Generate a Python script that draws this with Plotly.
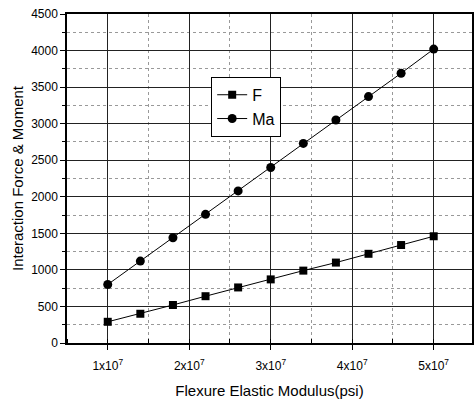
import plotly.graph_objects as go

x_vals = [1.0e7, 1.4e7, 1.8e7, 2.2e7, 2.6e7, 3.0e7, 3.4e7, 3.8e7, 4.2e7, 4.6e7, 5.0e7]
f_vals = [290, 400, 520, 640, 760, 870, 990, 1100, 1220, 1340, 1460]
ma_vals = [800, 1120, 1440, 1760, 2080, 2400, 2730, 3050, 3370, 3690, 4020]
x_tickvals = [1e7, 2e7, 3e7, 4e7, 5e7]
x_ticktext = ["1x10<sup>7</sup>", "2x10<sup>7</sup>", "3x10<sup>7</sup>", "4x10<sup>7</sup>", "5x10<sup>7</sup>"]
y_tickvals = [0, 500, 1000, 1500, 2000, 2500, 3000, 3500, 4000, 4500]

FONT = "Liberation Sans, Arial, sans-serif"

fig = go.Figure()
fig.add_trace(go.Scatter(x=x_vals, y=f_vals, name="F", mode="lines+markers",
                         line=dict(color="black", width=1),
                         marker=dict(symbol="square", size=8, color="black")))
fig.add_trace(go.Scatter(x=x_vals, y=ma_vals, name="Ma", mode="lines+markers",
                         line=dict(color="black", width=1),
                         marker=dict(symbol="circle", size=9, color="black")))

fig.update_layout(
    width=475, height=399,
    margin=dict(l=67, r=1, t=14, b=55),
    plot_bgcolor="white", paper_bgcolor="white",
    font=dict(family=FONT, color="black", size=12),
    showlegend=True,
    legend=dict(x=0.356, y=0.809, xanchor="left", yanchor="top",
                bordercolor="black", borderwidth=1, bgcolor="white",
                font=dict(size=16, family=FONT), tracegroupgap=0,
                itemwidth=30),
    xaxis=dict(range=[0.5e7, 5.47e7], tickvals=x_tickvals, ticktext=x_ticktext,
               showline=True, linecolor="black", linewidth=1.5, mirror=True,
               ticks="outside", ticklen=5, tickcolor="black",
               ticklabelstandoff=6,
               showgrid=True, gridcolor="#222", gridwidth=1,
               minor=dict(dtick=0.5e7, tick0=0.5e7, showgrid=True, gridcolor="#999",
                          griddash="dot", ticks="inside", ticklen=4, tickcolor="black"),
               zeroline=False,
               title=dict(text="Flexure Elastic Modulus(psi)", font=dict(size=15), standoff=14),
               tickfont=dict(size=12)),
    yaxis=dict(range=[0, 4500], tickvals=y_tickvals,
               showline=True, linecolor="black", linewidth=1.5, mirror=True,
               ticks="outside", ticklen=5, tickcolor="black",
               showgrid=True, gridcolor="#222", gridwidth=1,
               minor=dict(dtick=250, tick0=0, showgrid=True, gridcolor="#999",
                          griddash="dot", ticks="outside", ticklen=3, tickcolor="black"),
               zeroline=False,
               title=dict(text="Interaction Force & Moment", font=dict(size=15), standoff=4),
               tickfont=dict(size=12)),
)

fig.write_html("out.html")
